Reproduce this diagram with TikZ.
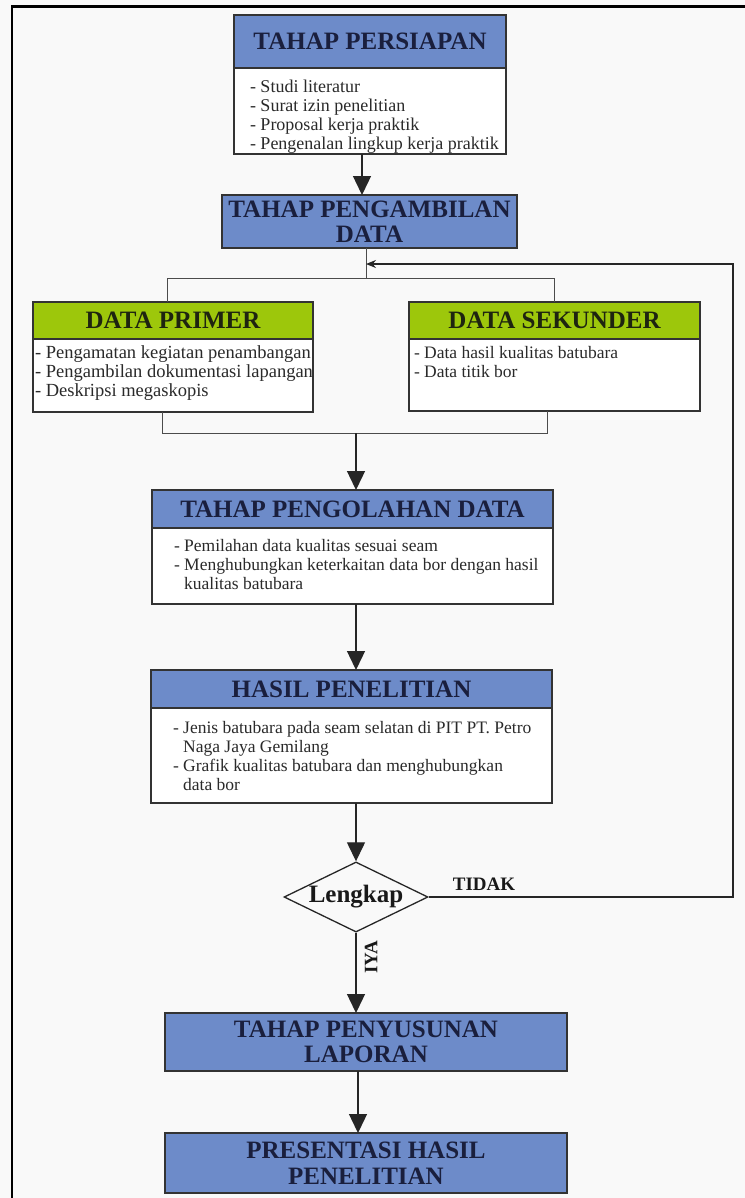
\documentclass[tikz,border=0pt]{standalone}
\usepackage{fontspec}
\setmainfont{Liberation Serif}
\usetikzlibrary{shapes.geometric,arrows.meta,calc}
\definecolor{hblue}{HTML}{6D8BC9}
\definecolor{hgreen}{HTML}{9DC70B}
\definecolor{navy}{HTML}{1A1F3D}
\definecolor{gnavy}{HTML}{1E2410}
\definecolor{bgc}{HTML}{F9F9F9}
\definecolor{edge}{HTML}{333333}
\definecolor{bodyc}{HTML}{2A2A2A}
\newcommand{\hdrfont}{\fontsize{25bp}{25.5bp}\selectfont\bfseries}
\newcommand{\lblfont}{\fontsize{19bp}{20bp}\selectfont\bfseries}
% width, height, left pad, first baseline, font size, content
\newcommand{\btext}[6]{\parbox[t][#2][t]{#1}{\fontsize{#5}{19bp}\selectfont\raggedright\leftskip=#3\relax\rule{0pt}{#4}#6}}
\begin{document}
\begin{tikzpicture}[x=1bp,y=-1bp,
  hdr/.style={draw=edge, line width=1.2bp, fill=hblue, anchor=north west, inner sep=0pt, outer sep=0pt, align=center, text=navy, font=\hdrfont},
  ghdr/.style={hdr, fill=hgreen, text=gnavy},
  bodybox/.style={draw=edge, line width=1.2bp, fill=white, anchor=north west, inner sep=0pt, outer sep=0pt, text=bodyc},
  arr/.style={line width=1.3bp, draw=black!85, -{Triangle[length=19bp,width=18bp]}},
  brk/.style={line width=1bp, draw=black!70},
  fb/.style={line width=1.3bp, draw=black!85, -{Stealth[length=10bp,width=8bp]}},
  lbl/.style={font=\lblfont, text=black!90, inner sep=0pt}
]
\fill[bgc] (0,0) rectangle (745,1198);
\useasboundingbox (0,0) rectangle (745,1198);
\draw[line width=2.2bp] (12,1198) -- (12,6.5) -- (745,6.5);

% axes
\coordinate (ax1) at (362,0);
\coordinate (ax2) at (366,0);
\coordinate (ax3) at (356,0);
\coordinate (ax4) at (358,0);

% TAHAP PERSIAPAN
\node[hdr, minimum width=272bp, minimum height=53bp] (h1) at (234,15) {TAHAP PERSIAPAN};
\node[bodybox] (b1) at (234,68) {\btext{272bp}{86bp}{16bp}{24bp}{18bp}{- Studi literatur\\- Surat izin penelitian\\- Proposal kerja praktik\\- Pengenalan lingkup kerja praktik}};

% TAHAP PENGAMBILAN DATA
\node[hdr, minimum width=295bp, minimum height=53bp] (h2) at (222,195) {TAHAP PENGAMBILAN\\DATA};

% DATA PRIMER
\node[ghdr, minimum width=280bp, minimum height=37bp] (hp) at (33,302) {DATA PRIMER};
\node[bodybox] (bp) at (33,339) {\btext{280bp}{73bp}{2bp}{19bp}{18.5bp}{- Pengamatan kegiatan penambangan\\- Pengambilan dokumentasi lapangan\\- Deskripsi megaskopis}};

% DATA SEKUNDER
\node[ghdr, minimum width=291bp, minimum height=37bp] (hs) at (409,302) {DATA SEKUNDER};
\node[bodybox] (bs) at (409,339) {\btext{291bp}{72bp}{5bp}{19bp}{17.5bp}{- Data hasil kualitas batubara\\- Data titik bor}};

% TAHAP PENGOLAHAN DATA
\node[hdr, minimum width=401bp, minimum height=38bp] (h3) at (152,490) {TAHAP PENGOLAHAN DATA};
\node[bodybox] (b3) at (152,528) {\btext{401bp}{76bp}{22bp}{23bp}{17.5bp}{- Pemilahan data kualitas sesuai seam\\- Menghubungkan keterkaitan data bor dengan hasil\\\phantom{- }kualitas batubara}};

% HASIL PENELITIAN
\node[hdr, minimum width=401bp, minimum height=38bp] (h4) at (151,670) {HASIL PENELITIAN};
\node[bodybox] (b4) at (151,708) {\btext{401bp}{95bp}{22bp}{25bp}{17.5bp}{- Jenis batubara pada seam selatan di PIT PT. Petro\\\phantom{- }Naga Jaya Gemilang\\- Grafik kualitas batubara dan menghubungkan\\\phantom{- }data bor}};

% Decision
\node[draw=black!85, line width=1.3bp, diamond, aspect=2, minimum width=144bp, minimum height=70bp, inner sep=0pt, fill=bgc, font=\fontsize{25bp}{26bp}\selectfont\bfseries, text=black!90] (dia) at (356,897) {Lengkap};

% TAHAP PENYUSUNAN LAPORAN
\node[hdr, minimum width=402bp, minimum height=58bp] (h5) at (165,1013) {TAHAP PENYUSUNAN\\LAPORAN};
% PRESENTASI HASIL PENELITIAN
\node[hdr, minimum width=402bp, minimum height=60bp] (h6) at (165,1133) {PRESENTASI HASIL\\PENELITIAN};

% labels
\node[lbl] (tidak) at (484,884) {TIDAK};
\node[lbl, rotate=90] (iya) at (371,957) {IYA};

% connectors
\draw[arr] (b1.south -| ax1) -- (h2.north -| ax1);

\coordinate (tl) at (167,278);
\coordinate (tr) at (554,278);
\draw[brk] (h2.south -| ax2) -- (tl -| ax2);
\draw[brk] (tl |- hp.north) -- (tl) -- (tr) -- (tr |- hs.north);

\coordinate (bl) at (162,433);
\coordinate (br) at (547,433);
\draw[brk] (bl |- bp.south) -- (bl) -- (br) -- (br |- bs.south);
\draw[arr] (ax3 |- bl) -- (h3.north -| ax3);

\draw[arr] (b3.south -| ax3) -- (h4.north -| ax3);
\draw[arr] (b4.south -| ax3) -- (dia.north);
\draw[arr] (dia.south) -- (h5.north -| ax3);
\draw[arr] (h5.south -| ax4) -- (h6.north -| ax4);

\coordinate (fbc) at (733,264);
\draw[fb] (dia.east) -| (fbc) -- (ax2 |- fbc);
\end{tikzpicture}
\end{document}
